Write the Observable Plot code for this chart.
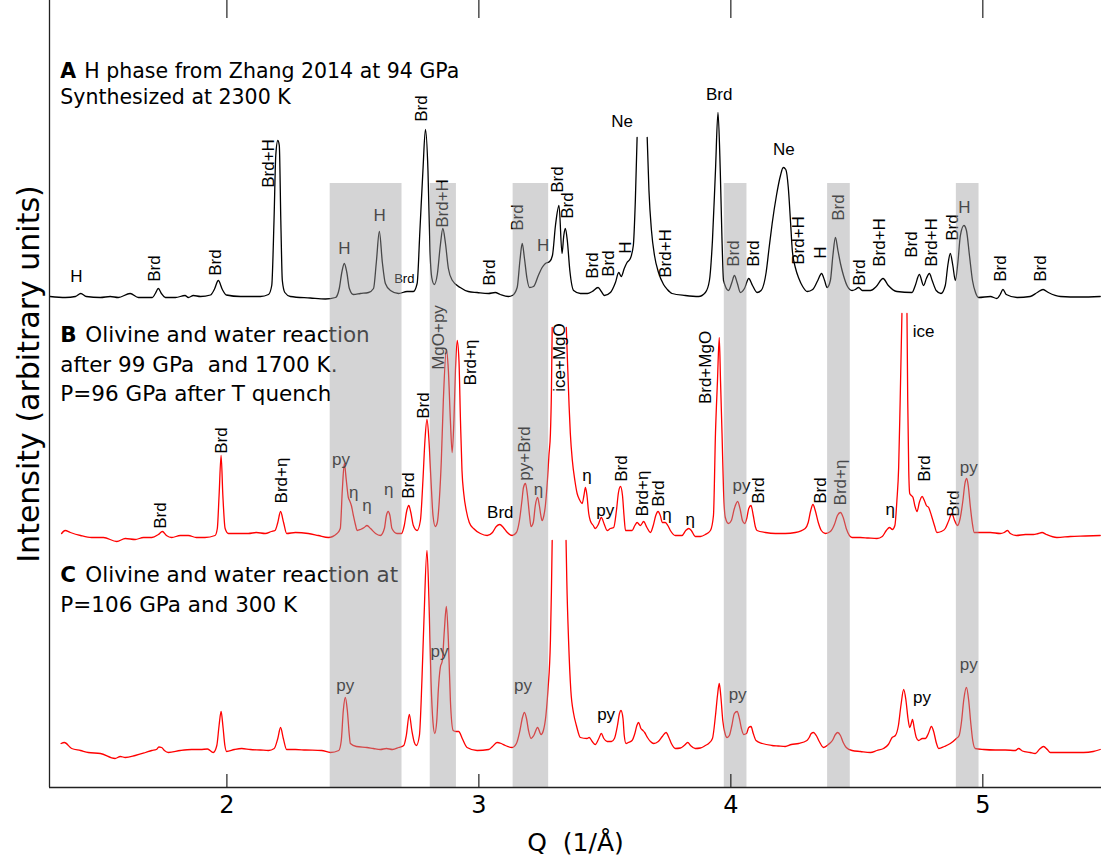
<!DOCTYPE html>
<html>
<head>
<meta charset="utf-8">
<script src="https://cdn.jsdelivr.net/npm/d3@7"></script>
<script src="https://cdn.jsdelivr.net/npm/@observablehq/plot@0.6"></script>
<style>
  html, body { margin: 0; padding: 0; background: #fff; }
  #chart svg { display: block; }
</style>
</head>
<body>
<div id="chart"></div>
<script>
// X-ray diffraction patterns, Q in 1/Å; intensity in arbitrary units (patterns stacked).
const qDomain = [1.296, 5.471];
const qTicks = [2, 3, 4, 5];

// A: H phase (Zhang 2014, 94 GPa)
const traceA = [
  [1.298,491],[1.359,490],[1.399,491],[1.420,494],[1.442,491],[1.498,490],[1.537,491],[1.569,490],
  [1.616,494],[1.649,490],[1.704,490],[1.716,494],[1.728,499],[1.740,494],[1.756,490],[1.796,490],
  [1.834,492],[1.847,490],[1.867,492],[1.895,491],[1.935,492.5],[1.950,498],[1.966,507],[1.982,498],
  [1.998,492.5],[2.054,491],[2.133,491],[2.165,493],[2.178,502],[2.187,567],[2.194,632],[2.202,647],
  [2.208,642],[2.214,567],[2.220,507],[2.230,495],[2.252,491],[2.331,489.5],[2.391,488.5],[2.431,490],
  [2.446,499],[2.456,515],[2.466,524],[2.476,515],[2.486,499],[2.502,493],[2.530,494],[2.562,495],
  [2.582,499],[2.593,525],[2.605,556],[2.617,525],[2.629,504],[2.649,497],[2.681,494],[2.715,496],
  [2.740,496],[2.755,504],[2.766,557],[2.778,617],[2.788,658],[2.798,617],[2.806,537],[2.813,510],
  [2.823,503],[2.835,513],[2.847,542],[2.857,559],[2.867,545],[2.879,519],[2.895,507],[2.926,500],
  [2.958,496],[2.993,495],[3.038,494],[3.065,495],[3.085,493],[3.117,491],[3.133,492],[3.152,500],
  [3.163,527],[3.172,544],[3.181,529],[3.191,509],[3.201,500],[3.217,501],[3.236,512],[3.251,520],
  [3.264,524],[3.281,526],[3.292,532],[3.304,562],[3.318,582],[3.330,534],[3.337,552],[3.343,559],
  [3.351,547],[3.361,517],[3.376,497],[3.403,494],[3.431,494],[3.450,496],[3.473,500],[3.486,496],
  [3.498,492],[3.522,495],[3.542,505],[3.555,515],[3.565,511],[3.577,519],[3.588,525],[3.601,529],
  [3.613,542],[3.621,587],[3.628,650],[3.648,NaN],[3.668,650],[3.675,597],[3.685,557],[3.697,532],
  [3.713,515],[3.733,503],[3.748,498],[3.767,494],[3.819,492],[3.872,491],[3.899,495],[3.915,507],
  [3.927,547],[3.939,617],[3.949,675],[3.958,617],[3.965,547],[3.971,507],[3.991,497],[4.004,505],
  [4.014,512],[4.026,504],[4.038,495],[4.054,499],[4.071,509],[4.086,502],[4.104,495],[4.120,497],
  [4.140,515],[4.152,540],[4.164,564],[4.181,592],[4.197,612],[4.208,620],[4.218,618],[4.228,600],
  [4.237,565],[4.244,537],[4.257,519],[4.270,509],[4.285,501],[4.303,496],[4.325,498],[4.345,507],
  [4.360,514],[4.372,507],[4.382,500],[4.395,507],[4.405,532],[4.415,550],[4.425,537],[4.435,524],
  [4.447,512],[4.463,501],[4.481,497],[4.494,498],[4.507,500],[4.522,497],[4.554,497],[4.577,501],
  [4.604,509],[4.625,502],[4.659,496],[4.719,495],[4.732,502],[4.748,513],[4.765,502],[4.776,509],
  [4.788,514],[4.799,507],[4.815,497],[4.834,494],[4.851,502],[4.861,522],[4.871,534],[4.881,522],
  [4.891,507],[4.901,525],[4.911,552],[4.925,562],[4.935,557],[4.947,532],[4.959,507],[4.971,495],
  [4.983,490],[5.030,491],[5.056,489],[5.069,493],[5.080,498],[5.093,493],[5.136,490],[5.188,491],
  [5.216,495],[5.239,498],[5.260,495],[5.308,491],[5.387,490.5],[5.466,491]
];

// B: olivine + water after 99 GPa / 1700 K, quenched (96 GPa)
const traceB = [
  [1.344,254],[1.358,257],[1.379,255],[1.419,252],[1.463,250],[1.510,250],[1.563,246],[1.597,249],
  [1.636,248],[1.669,250],[1.702,250],[1.728,253],[1.744,256],[1.760,252],[1.781,250],[1.815,252],
  [1.847,252],[1.879,250],[1.913,250],[1.953,252],[1.962,259],[1.969,292],[1.977,332],[1.984,292],
  [1.993,259],[2.006,254],[2.046,254],[2.085,254],[2.117,255],[2.152,254],[2.177,256],[2.191,257],
  [2.202,265],[2.213,276],[2.225,265],[2.237,254],[2.272,255],[2.323,254],[2.363,252],[2.403,250],
  [2.437,254],[2.450,259],[2.458,297],[2.466,324],[2.474,307],[2.482,290],[2.487,287],[2.494,282],
  [2.502,272],[2.510,263],[2.517,257],[2.530,258],[2.545,260],[2.556,262],[2.570,259],[2.590,254],
  [2.609,252],[2.625,259],[2.633,272],[2.640,276],[2.647,272],[2.655,259],[2.675,254],[2.693,254],
  [2.704,262],[2.714,277],[2.722,282],[2.730,275],[2.740,262],[2.755,257],[2.768,267],[2.778,307],
  [2.786,347],[2.794,368],[2.802,347],[2.810,307],[2.818,272],[2.827,261],[2.835,265],[2.843,287],
  [2.851,327],[2.859,387],[2.871,438],[2.879,417],[2.887,367],[2.894,335],[2.901,367],[2.907,417],
  [2.914,447],[2.921,427],[2.927,367],[2.933,317],[2.940,294],[2.950,277],[2.962,265],[2.979,259],
  [3.006,254],[3.033,252],[3.054,255],[3.069,261],[3.083,263],[3.097,260],[3.113,255],[3.132,252],
  [3.149,255],[3.161,267],[3.171,287],[3.177,300],[3.185,304],[3.193,292],[3.201,272],[3.207,261],
  [3.216,265],[3.224,282],[3.233,290],[3.240,282],[3.246,272],[3.251,267],[3.258,272],[3.264,282],
  [3.272,307],[3.278,332],[3.284,354],[3.288,397],[3.291,460],[3.320,NaN],[3.347,460],[3.353,417],
  [3.358,382],[3.363,354],[3.371,327],[3.381,307],[3.390,294],[3.399,288],[3.410,284],[3.417,292],
  [3.423,300],[3.429,292],[3.436,274],[3.442,267],[3.454,262],[3.462,259],[3.474,263],[3.486,270],
  [3.498,263],[3.509,257],[3.522,259],[3.535,260],[3.546,277],[3.554,295],[3.562,301],[3.570,292],
  [3.576,272],[3.582,257],[3.608,257],[3.619,262],[3.628,265],[3.641,262],[3.654,266],[3.667,260],
  [3.681,255],[3.692,262],[3.702,272],[3.711,276],[3.720,272],[3.728,265],[3.740,265],[3.750,262],
  [3.760,257],[3.780,252],[3.806,252],[3.821,257],[3.833,259],[3.843,257],[3.859,251],[3.879,251],
  [3.899,253],[3.919,257],[3.931,272],[3.939,354],[3.947,407],[3.954,450],[3.959,407],[3.965,354],
  [3.971,297],[3.978,270],[3.991,264],[4.002,267],[4.014,279],[4.027,286],[4.038,277],[4.046,267],
  [4.055,264],[4.063,269],[4.071,279],[4.080,282],[4.089,272],[4.097,261],[4.104,257],[4.137,255],
  [4.177,254],[4.216,254],[4.256,255],[4.295,259],[4.307,265],[4.317,277],[4.326,283],[4.335,277],
  [4.347,265],[4.359,257],[4.375,254],[4.395,256],[4.411,263],[4.423,272],[4.435,275],[4.446,270],
  [4.458,259],[4.481,250],[4.514,250],[4.545,249.5],[4.580,249],[4.601,251],[4.617,257],[4.630,260],
  [4.641,258],[4.651,262],[4.659,287],[4.666,320],[4.672,387],[4.679,474],[4.689,NaN],[4.699,474],
  [4.702,387],[4.706,317],[4.710,294],[4.716,292],[4.723,290],[4.730,282],[4.739,276],[4.748,285],
  [4.759,291],[4.768,287],[4.776,282],[4.785,280],[4.796,272],[4.808,262],[4.818,255],[4.835,256],
  [4.851,259],[4.865,267],[4.877,274],[4.888,267],[4.900,262],[4.910,269],[4.921,287],[4.929,304],
  [4.936,309],[4.942,302],[4.950,282],[4.958,265],[4.966,255],[4.990,255],[5.030,255],[5.069,254],
  [5.085,255],[5.098,257],[5.109,254],[5.133,252],[5.169,253],[5.200,253],[5.220,254],[5.235,255],
  [5.252,253],[5.294,250],[5.347,251],[5.407,251.5],[5.466,252]
];

// C: olivine + water at 106 GPa, 300 K
const traceC = [
  [1.342,44],[1.355,45],[1.384,39],[1.419,37],[1.450,35],[1.498,34],[1.556,29],[1.577,31],
  [1.597,30],[1.636,32],[1.677,35],[1.702,37],[1.720,38],[1.730,40.5],[1.741,40],[1.752,37],
  [1.768,35],[1.815,37],[1.860,38],[1.895,38],[1.923,38.5],[1.946,35],[1.960,42],[1.969,62],
  [1.977,76],[1.984,62],[1.992,42],[1.999,36],[2.030,38],[2.059,39],[2.093,38],[2.133,37.5],
  [2.165,37],[2.188,39],[2.202,49],[2.213,60],[2.224,49],[2.237,38],[2.272,38],[2.312,37.5],
  [2.376,37],[2.411,35],[2.444,37],[2.454,47],[2.462,77],[2.470,90],[2.478,77],[2.486,52],
  [2.490,44],[2.514,41],[2.556,40],[2.581,39],[2.609,38],[2.633,39],[2.657,38],[2.682,40],
  [2.702,42],[2.712,52],[2.724,73],[2.734,57],[2.744,45],[2.752,42],[2.764,52],[2.774,107],
  [2.782,167],[2.794,237],[2.802,187],[2.810,107],[2.818,65],[2.825,54],[2.833,67],[2.839,97],
  [2.847,120],[2.855,127],[2.863,157],[2.871,181],[2.879,147],[2.887,87],[2.898,57],[2.909,56],
  [2.920,56],[2.934,49],[2.953,40],[2.993,37],[3.039,38],[3.054,41],[3.072,45],[3.089,44],
  [3.105,42],[3.132,40],[3.149,44],[3.163,57],[3.173,70],[3.181,75],[3.189,69],[3.197,57],
  [3.207,49],[3.218,52],[3.233,60],[3.247,53],[3.256,57],[3.266,72],[3.274,97],[3.284,147],
  [3.288,197],[3.291,247],[3.320,NaN],[3.346,247],[3.349,207],[3.356,147],[3.365,97],[3.376,74],
  [3.387,62],[3.403,50],[3.429,49],[3.438,50],[3.450,46],[3.462,43],[3.476,49],[3.486,54],
  [3.496,49],[3.509,46],[3.526,46],[3.538,49],[3.550,62],[3.558,74],[3.564,77],[3.572,69],
  [3.577,52],[3.584,44],[3.593,45],[3.608,47],[3.619,54],[3.627,62],[3.634,65],[3.643,59],
  [3.651,57],[3.658,55],[3.669,50],[3.681,46],[3.694,44],[3.712,46],[3.728,51],[3.743,55],
  [3.754,50],[3.764,44],[3.780,39],[3.800,39.5],[3.815,42],[3.829,45],[3.840,42],[3.859,39],
  [3.879,39.5],[3.899,42],[3.912,44],[3.927,49],[3.939,72],[3.947,92],[3.954,104],[3.960,92],
  [3.968,67],[3.976,55],[3.985,50],[3.994,52],[4.004,62],[4.014,74],[4.025,76],[4.034,69],
  [4.042,59],[4.051,53],[4.062,54],[4.071,60],[4.080,61],[4.089,54],[4.100,47],[4.125,44],
  [4.163,42],[4.188,41.5],[4.216,41],[4.240,43],[4.269,44],[4.302,47],[4.311,50],[4.319,54],
  [4.328,55],[4.339,52],[4.351,46],[4.368,40],[4.387,43],[4.403,47],[4.415,53],[4.424,55],
  [4.435,52],[4.446,45],[4.458,40],[4.481,37],[4.514,36],[4.554,35],[4.580,37],[4.606,39],
  [4.625,43],[4.640,50],[4.653,52],[4.665,62],[4.675,82],[4.686,98],[4.695,87],[4.703,69],
  [4.710,60],[4.717,65],[4.721,68],[4.728,59],[4.736,50],[4.745,47],[4.760,49],[4.772,49],
  [4.784,54],[4.796,61],[4.806,55],[4.815,45],[4.825,39],[4.847,41],[4.871,44],[4.895,49],
  [4.906,52],[4.916,67],[4.924,87],[4.935,100],[4.944,87],[4.952,65],[4.960,47],[4.970,39],
  [5.003,38],[5.050,37.5],[5.089,37.5],[5.129,37],[5.142,39],[5.157,36.5],[5.188,35],[5.208,34],
  [5.224,38],[5.241,41],[5.256,38],[5.268,35],[5.327,35],[5.400,35],[5.438,36],[5.466,38]
];

// Shaded Q ranges
const bands = [[2.41,2.695],[2.807,2.911],[3.136,3.277],[3.974,4.064],[4.384,4.474],[4.895,4.985]];
const bandTop = 604;

// Peak labels: [text, Q, intensity, vertical?]
const peakLabels = [
  ["H",1.403,511,0],["Brd",1.712,519,1],["Brd",1.953,525,1],["Brd+H",2.165,624,1],["H",2.466,539,0],
  ["H",2.606,572,0],["Brd",2.771,679,1],["Brd+H",2.854,584,1],["Brd",3.042,515,1],["Brd",3.154,570,1],
  ["H",3.255,542,0],["Brd",3.313,608,1],["Brd",3.352,582,1],["Brd",3.452,522,1],["Brd",3.513,524,1],
  ["H",3.581,540,1],["Ne",3.568,666,0],["Brd+H",3.740,534,1],["Brd",3.954,693,0],["Brd",4.011,534,1],
  ["Brd",4.090,534,1],["Ne",4.210,638,0],["Brd+H",4.269,547,1],["H",4.355,535,1],["Brd",4.428,580,1],
  ["Brd",4.510,515,1],["Brd+H",4.590,545,1],["Brd",4.719,543,1],["Brd+H",4.798,545,1],["Brd",4.878,560,1],
  ["H",4.927,580,0],["Brd",5.069,519,1],["Brd",5.228,519,1],
  ["Brd",1.735,272,1],["Brd",1.979,347,1],["Brd+η",2.215,307,1],["py",2.453,328,0],["η",2.503,295,0],
  ["η",2.556,282,0],["η",2.642,298,0],["Brd",2.721,302,1],["Brd",2.779,382,1],["MgO+py",2.840,450,1],
  ["Brd+η",2.966,425,1],["Brd",3.085,275,0],["py+Brd",3.181,334,1],["η",3.237,298,0],["ice+MgO",3.321,430,1],
  ["η",3.429,312,0],["py",3.502,277,0],["Brd",3.568,319,1],["Brd+η",3.648,294,1],["Brd",3.713,294,1],
  ["η",3.747,273,0],["η",3.839,268,0],["Brd+MgO",3.899,420,1],["py",4.042,302,0],["Brd",4.110,297,1],
  ["Brd",4.356,297,1],["Brd+η",4.435,305,1],["η",4.633,278,0],["ice",4.765,456,0],["Brd",4.768,319,1],
  ["Brd",4.884,284,1],["py",4.944,320,0],
  ["py",2.470,102,0],["py",2.844,136,0],["py",3.175,102,0],["py",3.505,73,0],["py",4.027,93,0],
  ["py",4.759,90,0],["py",4.944,123,0]
];
const smallLabels = [["Brd",2.704,509]];

// Panel captions: bold lead letter + text; panel A is set slightly smaller
const captionQ = 1.339;
const captions = [
  {lead: "A", text: "H phase from Zhang 2014 at 94 GPa", I: 716, panel: "A"},
  {lead: "",  text: "Synthesized at 2300 K", I: 690, panel: "A"},
  {lead: "B", text: "Olivine and water reaction", I: 452, panel: "B"},
  {lead: "",  text: "after 99 GPa \u00a0and 1700 K.", I: 422, panel: "B"},
  {lead: "",  text: "P=96 GPa after T quench", I: 393, panel: "B"},
  {lead: "C", text: "Olivine and water reaction at", I: 212, panel: "C"},
  {lead: "",  text: "P=106 GPa and 300 K", I: 182, panel: "C"}
];

const labelFont = "Liberation Sans, Arial, Helvetica, sans-serif";
const bigFont = "DejaVu Sans, Liberation Sans, sans-serif";
const textCommon = {fontFamily: labelFont, fontSize: 17, fill: "#000"};

function captionMarks(rows, size, aria) {
  const common = {x: captionQ, y: d => d.I, textAnchor: "start", fontFamily: bigFont, fontSize: size, fill: "#000", ariaLabel: aria};
  return [
    Plot.text(rows.filter(d => d.lead), {...common, text: d => d.lead, fontWeight: "bold"}),
    Plot.text(rows.filter(d => d.lead), {...common, text: d => d.text, dx: size + 3.5}),
    Plot.text(rows.filter(d => !d.lead), {...common, text: d => d.text})
  ];
}

const chart = Plot.plot({
  width: 1101,
  height: 867,
  marginLeft: 49,
  marginRight: 0,
  marginTop: 0,
  marginBottom: 80,
  x: {domain: qDomain, axis: null},
  y: {domain: [0, 787], axis: null},
  style: {background: "#fff", fontFamily: labelFont},
  marks: [
    Plot.line(traceA, {x: d => d[0], y: d => d[1], stroke: "#000", strokeWidth: 1.3, curve: "monotone-x"}),
    Plot.line(traceB, {x: d => d[0], y: d => d[1], stroke: "#ff0000", strokeWidth: 1.3, curve: "monotone-x"}),
    Plot.line(traceC, {x: d => d[0], y: d => d[1], stroke: "#ff0000", strokeWidth: 1.3, curve: "monotone-x"}),
    Plot.text(peakLabels.filter(d => !d[3]), {x: d => d[1], y: d => d[2], text: d => d[0], ...textCommon}),
    Plot.text(peakLabels.filter(d => d[3]), {x: d => d[1], y: d => d[2], text: d => d[0], rotate: -90, ...textCommon}),
    Plot.text(smallLabels, {x: d => d[1], y: d => d[2], text: d => d[0], fontFamily: labelFont, fontSize: 13, fill: "#000"}),
    ...captionMarks(captions.filter(d => d.panel === "A"), 20.5, "caption-a"),
    ...captionMarks(captions.filter(d => d.panel !== "A"), 21.5, "caption-bc"),
    // translucent grey bands over the patterns
    Plot.rect(bands, {x1: d => d[0], x2: d => d[1], y1: 0, y2: bandTop, fill: "#a0a0a2", fillOpacity: 0.45}),
    // axes
    Plot.ruleY([0], {stroke: "#222", strokeWidth: 1.6}),
    Plot.ruleX([qDomain[0]], {stroke: "#222", strokeWidth: 1.3}),
    Plot.ruleX(qTicks, {y1: 0, y2: 13, stroke: "#222", strokeWidth: 1.2}),
    Plot.ruleX(qTicks, {y1: 769, y2: 787, stroke: "#222", strokeWidth: 1.2}),
    Plot.text(qTicks, {x: d => d, text: d => String(d), frameAnchor: "bottom", dy: 25,
      fontFamily: bigFont, fontSize: 24, fill: "#000"}),
    Plot.text(["Q\u00a0\u00a0(1/Å)"], {frameAnchor: "bottom", dy: 63, fontFamily: bigFont, fontSize: 25, fill: "#000"}),
    Plot.text(["Intensity (arbitrary units)"], {frameAnchor: "left", textAnchor: "middle", dx: -20, dy: -20, rotate: -90,
      fontFamily: bigFont, fontSize: 30, fill: "#000", ariaLabel: "y-title"})
  ]
});

// wider tracking for the captions and the vertical axis title
d3.select(chart).selectAll('g[aria-label="caption-a"] text').attr("letter-spacing", "1px");
d3.select(chart).selectAll('g[aria-label="caption-bc"] text').attr("letter-spacing", "1.1px");
d3.select(chart).selectAll('g[aria-label="y-title"] text').attr("letter-spacing", "2px");

document.getElementById("chart").appendChild(chart);
</script>
</body>
</html>
